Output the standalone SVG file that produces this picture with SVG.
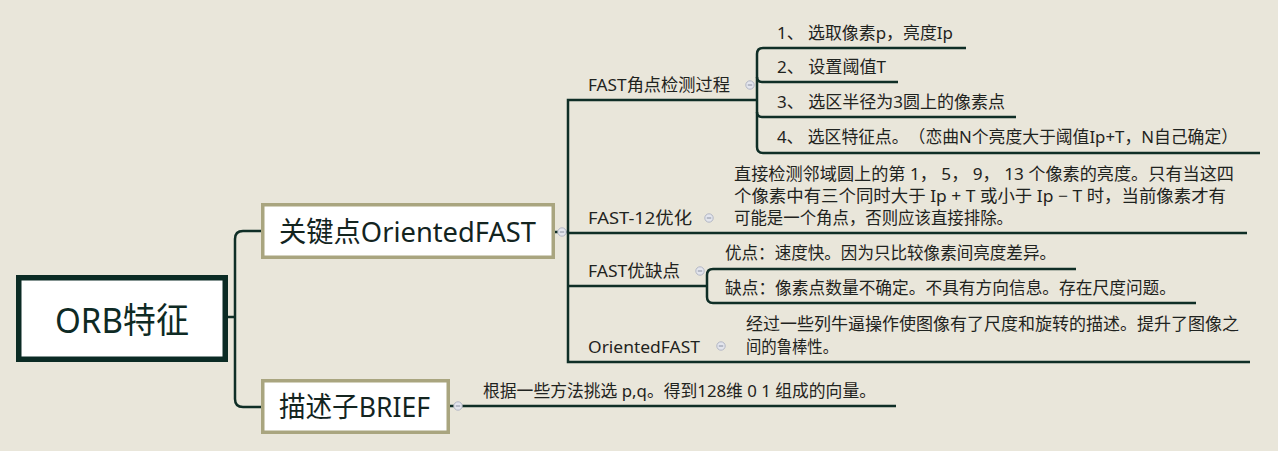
<svg xmlns="http://www.w3.org/2000/svg" width="1278" height="451" viewBox="0 0 1278 451">
<defs>
<style>
.bg{fill:#E9E6DA}
.ln{fill:none;stroke:#0F2E26;stroke-width:2.5;stroke-linejoin:miter}
.root{fill:#FFFFFF;stroke:#0B2B24;stroke-width:5.5}
.main{fill:#FFFFFF;stroke:#A9A57F;stroke-width:3.5}
.t{font-family:"Noto Sans","Noto Sans CJK SC",sans-serif;fill:#1F2320;text-spacing-trim:space-all}
.big{font-size:28px;fill:#13241F}
.rt{font-size:35px;fill:#0E2A24}
.sm{font-size:17px}
.ic circle{fill:#E3E5ED;stroke:#B3B7C4;stroke-width:1}
.ic line{stroke:#8A90A0;stroke-width:1}
</style>
<g id="icon" class="ic"><circle cx="0" cy="0" r="4.2"/><line x1="-2.2" y1="0" x2="2.2" y2="0"/></g>
</defs>
<rect class="bg" x="0" y="0" width="1278" height="451"/>

<g id="connectors">
  <path class="ln" d="M228,317 H235"/>
  <path class="ln" d="M261,231 H243 Q235,231 235,239 V399 Q235,407 243,407 H261"/>
  <path class="ln" d="M555,232 H558 M566,232 H568"/>
  <path class="ln" d="M757,100 H568 V362 H1250"/>
  <path class="ln" d="M568,233 H1247"/>
  <path class="ln" d="M568,286 H707"/>
  <path class="ln" d="M966,48 H763 Q757,48 757,54 V147 Q757,153 763,153 H1260"/>
  <path class="ln" d="M757,77 Q757,82 762,82 H898"/>
  <path class="ln" d="M757,112 Q757,117 762,117 H1016"/>
  <path class="ln" d="M1076,269 H713 Q707,269 707,275 V297 Q707,303 713,303 H1196"/>
  <path class="ln" d="M450,406 H454 M462,406 H896"/>
</g>

<g id="node-root">
  <rect class="root" x="18.75" y="277.75" width="206.5" height="81.5"/>
  <text class="t rt" x="55" y="333" textLength="134" lengthAdjust="spacingAndGlyphs">ORB特征</text>
</g>

<g id="node-orientedfast">
  <rect class="main" x="262.75" y="204.75" width="290.5" height="52.5"/>
  <text class="t big" x="279" y="242" textLength="257" lengthAdjust="spacingAndGlyphs">关键点OrientedFAST</text>
  <use href="#icon" x="562" y="232"/>
</g>

<g id="node-brief">
  <rect class="main" x="262.75" y="380.75" width="185.5" height="51.5"/>
  <text class="t big" x="279" y="417" textLength="151" lengthAdjust="spacingAndGlyphs">描述子BRIEF</text>
  <use href="#icon" x="458" y="406"/>
</g>

<g id="node-brief-desc">
  <text class="t sm" x="483" y="397" textLength="393" lengthAdjust="spacingAndGlyphs">根据一些方法挑选 p,q。得到128维 0 1 组成的向量。</text>
</g>

<g id="node-fast-process">
  <text class="t sm" x="588" y="91" textLength="142" lengthAdjust="spacingAndGlyphs">FAST角点检测过程</text>
  <use href="#icon" x="750" y="85"/>
</g>
<g id="node-step1"><text class="t sm" x="777" y="39" textLength="176" lengthAdjust="spacingAndGlyphs">1、 选取像素p，亮度Ip</text></g>
<g id="node-step2"><text class="t sm" x="777" y="73" textLength="109" lengthAdjust="spacingAndGlyphs">2、 设置阈值T</text></g>
<g id="node-step3"><text class="t sm" x="777" y="108" textLength="228" lengthAdjust="spacingAndGlyphs">3、 选区半径为3圆上的像素点</text></g>
<g id="node-step4"><text class="t sm" x="777" y="143" textLength="461" lengthAdjust="spacingAndGlyphs">4、 选区特征点。（恋曲N个亮度大于阈值Ip+T，N自己确定）</text></g>

<g id="node-fast12">
  <text class="t sm" x="588" y="224" textLength="104" lengthAdjust="spacingAndGlyphs">FAST-12优化</text>
  <use href="#icon" x="709" y="218"/>
</g>
<g id="node-fast12-desc">
  <text class="t sm" x="734" y="180" textLength="500" lengthAdjust="spacingAndGlyphs">直接检测邻域圆上的第 1， 5， 9， 13 个像素的亮度。只有当这四</text>
  <text class="t sm" x="734" y="202" textLength="492" lengthAdjust="spacingAndGlyphs">个像素中有三个同时大于 Ip + T 或小于 Ip − T 时，当前像素才有</text>
  <text class="t sm" x="734" y="224" textLength="279" lengthAdjust="spacingAndGlyphs">可能是一个角点，否则应该直接排除。</text>
</g>

<g id="node-fast-proscons">
  <text class="t sm" x="588" y="277" textLength="92" lengthAdjust="spacingAndGlyphs">FAST优缺点</text>
  <use href="#icon" x="700" y="271"/>
</g>
<g id="node-pros"><text class="t sm" x="725" y="259" textLength="331" lengthAdjust="spacingAndGlyphs">优点：速度快。因为只比较像素间亮度差异。</text></g>
<g id="node-cons"><text class="t sm" x="725" y="294" textLength="451" lengthAdjust="spacingAndGlyphs">缺点：像素点数量不确定。不具有方向信息。存在尺度问题。</text></g>

<g id="node-ofast">
  <text class="t sm" x="588" y="353" textLength="112" lengthAdjust="spacingAndGlyphs">OrientedFAST</text>
  <use href="#icon" x="721" y="346"/>
</g>
<g id="node-ofast-desc">
  <text class="t sm" x="746" y="330" textLength="493" lengthAdjust="spacingAndGlyphs">经过一些列牛逼操作使图像有了尺度和旋转的描述。提升了图像之</text>
  <text class="t sm" x="746" y="353" textLength="92" lengthAdjust="spacingAndGlyphs">间的鲁棒性。</text>
</g>
</svg>
